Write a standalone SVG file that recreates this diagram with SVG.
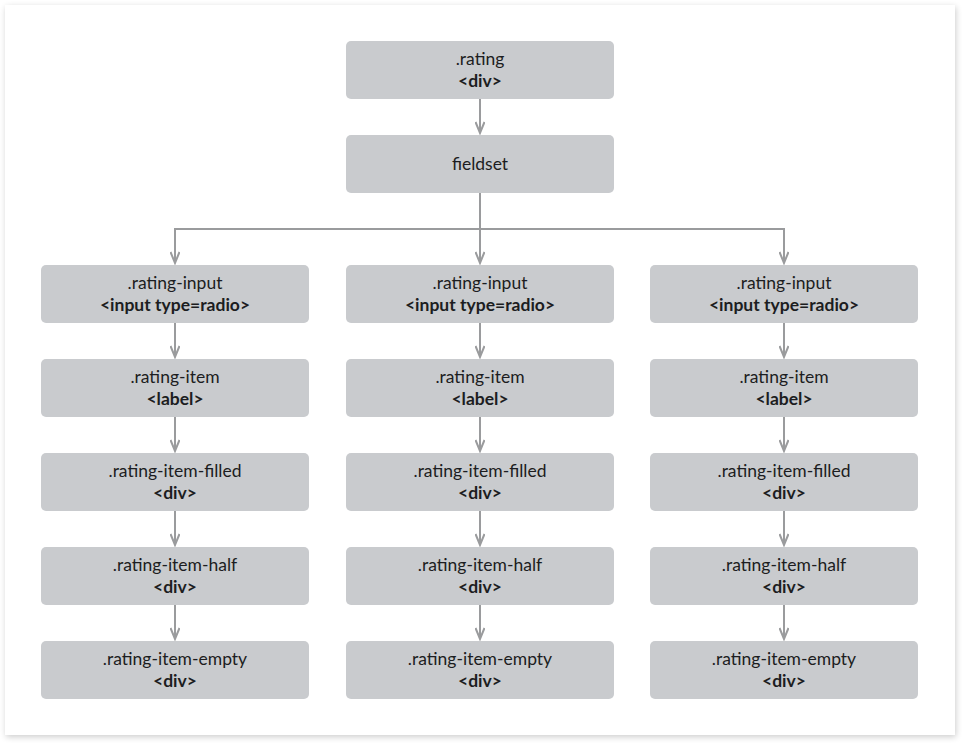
<svg xmlns="http://www.w3.org/2000/svg" width="970" height="750" viewBox="0 0 970 750">
<defs>
<filter id="sh" x="-5%" y="-5%" width="110%" height="110%">
<feGaussianBlur in="SourceAlpha" stdDeviation="3"/>
<feOffset dx="1" dy="2"/>
<feComponentTransfer><feFuncA type="linear" slope="0.2"/></feComponentTransfer>
<feMerge><feMergeNode/><feMergeNode in="SourceGraphic"/></feMerge>
</filter>
<marker id="arr" viewBox="0 0 14 10" refX="12" refY="5" markerWidth="14" markerHeight="10" markerUnits="userSpaceOnUse" orient="auto">
<path d="M1,0.5 L12,5 L1,9.5" fill="none" stroke="#9a9b9d" stroke-width="2"/>
</marker>
</defs>
<style>
.n rect{fill:#c9cbce;}
.n text{font-family:Lato,"Noto Sans",sans-serif;font-size:17.5px;fill:#1c1d21;text-anchor:middle;}
.n .b{font-weight:bold;}
#edges path{fill:none;stroke:#9a9b9d;stroke-width:2;}
</style>
<rect x="0" y="0" width="970" height="750" fill="#ffffff"/>
<rect x="5" y="5" width="950" height="730" fill="#ffffff" filter="url(#sh)"/>
<g id="edges">
<path d="M480,99 V133" marker-end="url(#arr)"/>
<path d="M480,193 V263" marker-end="url(#arr)"/>
<path d="M480,229 H175 V263" marker-end="url(#arr)"/>
<path d="M480,229 H784 V263" marker-end="url(#arr)"/>
<path d="M175,323 V357" marker-end="url(#arr)"/>
<path d="M175,417 V451" marker-end="url(#arr)"/>
<path d="M175,511 V545" marker-end="url(#arr)"/>
<path d="M175,605 V639" marker-end="url(#arr)"/>
<path d="M480,323 V357" marker-end="url(#arr)"/>
<path d="M480,417 V451" marker-end="url(#arr)"/>
<path d="M480,511 V545" marker-end="url(#arr)"/>
<path d="M480,605 V639" marker-end="url(#arr)"/>
<path d="M784,323 V357" marker-end="url(#arr)"/>
<path d="M784,417 V451" marker-end="url(#arr)"/>
<path d="M784,511 V545" marker-end="url(#arr)"/>
<path d="M784,605 V639" marker-end="url(#arr)"/>
</g>
<g id="rating" class="n"><rect x="346" y="41" width="268" height="58" rx="5"/><text x="480" y="65">.rating</text><text class="b" x="480" y="87">&lt;div&gt;</text></g>
<g id="fieldset" class="n"><rect x="346" y="135" width="268" height="58" rx="5"/><text x="480" y="170">fieldset</text></g>

<g id="input1" class="n"><rect x="41" y="265" width="268" height="58" rx="5"/><text x="175" y="289">.rating-input</text><text class="b" x="175" y="311">&lt;input type=radio&gt;</text></g>
<g id="item1" class="n"><rect x="41" y="359" width="268" height="58" rx="5"/><text x="175" y="383">.rating-item</text><text class="b" x="175" y="405">&lt;label&gt;</text></g>
<g id="filled1" class="n"><rect x="41" y="453" width="268" height="58" rx="5"/><text x="175" y="477">.rating-item-filled</text><text class="b" x="175" y="499">&lt;div&gt;</text></g>
<g id="half1" class="n"><rect x="41" y="547" width="268" height="58" rx="5"/><text x="175" y="571">.rating-item-half</text><text class="b" x="175" y="593">&lt;div&gt;</text></g>
<g id="empty1" class="n"><rect x="41" y="641" width="268" height="58" rx="5"/><text x="175" y="665">.rating-item-empty</text><text class="b" x="175" y="687">&lt;div&gt;</text></g>

<g id="input2" class="n"><rect x="346" y="265" width="268" height="58" rx="5"/><text x="480" y="289">.rating-input</text><text class="b" x="480" y="311">&lt;input type=radio&gt;</text></g>
<g id="item2" class="n"><rect x="346" y="359" width="268" height="58" rx="5"/><text x="480" y="383">.rating-item</text><text class="b" x="480" y="405">&lt;label&gt;</text></g>
<g id="filled2" class="n"><rect x="346" y="453" width="268" height="58" rx="5"/><text x="480" y="477">.rating-item-filled</text><text class="b" x="480" y="499">&lt;div&gt;</text></g>
<g id="half2" class="n"><rect x="346" y="547" width="268" height="58" rx="5"/><text x="480" y="571">.rating-item-half</text><text class="b" x="480" y="593">&lt;div&gt;</text></g>
<g id="empty2" class="n"><rect x="346" y="641" width="268" height="58" rx="5"/><text x="480" y="665">.rating-item-empty</text><text class="b" x="480" y="687">&lt;div&gt;</text></g>

<g id="input3" class="n"><rect x="650" y="265" width="268" height="58" rx="5"/><text x="784" y="289">.rating-input</text><text class="b" x="784" y="311">&lt;input type=radio&gt;</text></g>
<g id="item3" class="n"><rect x="650" y="359" width="268" height="58" rx="5"/><text x="784" y="383">.rating-item</text><text class="b" x="784" y="405">&lt;label&gt;</text></g>
<g id="filled3" class="n"><rect x="650" y="453" width="268" height="58" rx="5"/><text x="784" y="477">.rating-item-filled</text><text class="b" x="784" y="499">&lt;div&gt;</text></g>
<g id="half3" class="n"><rect x="650" y="547" width="268" height="58" rx="5"/><text x="784" y="571">.rating-item-half</text><text class="b" x="784" y="593">&lt;div&gt;</text></g>
<g id="empty3" class="n"><rect x="650" y="641" width="268" height="58" rx="5"/><text x="784" y="665">.rating-item-empty</text><text class="b" x="784" y="687">&lt;div&gt;</text></g>
</svg>
